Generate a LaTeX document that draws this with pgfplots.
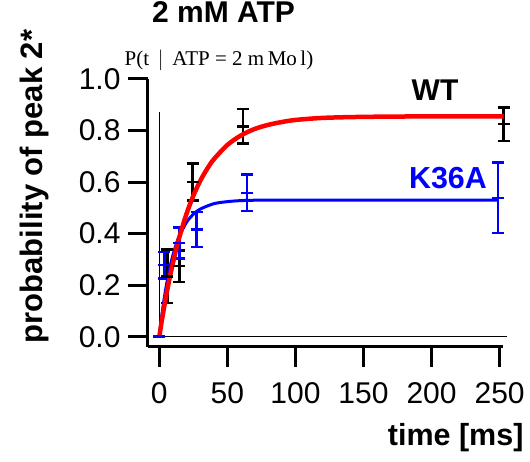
\documentclass[border=0pt]{standalone}
\usepackage{pgfplots}
\pgfplotsset{compat=1.18}
\usepackage{fontspec}
\setmainfont{Liberation Sans}
\newfontfamily\serifp{Liberation Serif}

\begin{document}
\begin{tikzpicture}[x=1pt,y=1pt]
\useasboundingbox (0,0) rectangle (530,462);
\begin{axis}[
  at={(148pt,115pt)}, anchor=south west,
  scale only axis, width=355pt, height=268pt,
  xmin=-8.3, xmax=252.5, ymin=-0.04, ymax=1.0,
  clip=false,
  axis lines=left,
  axis line style={-, line width=3pt},
  tick align=outside,
  major tick length=20pt,
  tick style={line width=3pt, black},
  xtick={0,50,100,150,200,250},
  ytick={0,0.2,0.4,0.6,0.8,1.0},
  yticklabel style={xshift=-4pt, /pgf/number format/.cd, fixed, fixed zerofill, precision=1},
  /pgf/number format/assume math mode=true,
  tick label style={font=\fontsize{30}{30}\selectfont},
  xticklabel style={yshift=-12pt},
  xlabel={\textbf{time [ms]}},
  xlabel style={at={(axis description cs:1.0676,-0.3657)}, anchor=base east, font=\fontsize{30.5}{31}\selectfont},
  ylabel={\textbf{probability of peak 2*}},
  ylabel style={at={(axis description cs:-0.297,0.599)}, anchor=base, rotate=0, font=\fontsize{31}{31}\selectfont},
  title={\textbf{2 mM ATP}},
  title style={at={(axis description cs:0.2127,1.189)}, anchor=base, font=\fontsize{30}{30}\selectfont},
]
% thin zero lines
\addplot[black, line width=1pt] coordinates {(-4.8,0) (255.6,0)};
\addplot[black, line width=1pt] coordinates {(0,0) (0,0.87)};

% WT data
\addplot[black, line width=2.5pt, only marks, mark=-, mark size=6pt,
  error bars/.cd, y dir=both, y explicit,
  error bar style={line width=2.5pt},
  error mark options={rotate=90, mark size=6pt, line width=2.5pt}]
  coordinates {
  (5.9,0.2345) +- (0,0.104)
  (14.7,0.274) +- (0,0.061)
  (24.5,0.601) +- (0,0.072)
  (61.6,0.8165) +- (0,0.0665)
  (253,0.825) +- (0,0.065)
};

% K36A data
\addplot[blue, line width=2.5pt, only marks, mark=-, mark size=6pt,
  error bars/.cd, y dir=both, y explicit,
  error bar style={line width=2.5pt},
  error mark options={rotate=90, mark size=6pt, line width=2.5pt}]
  coordinates {
  (0,0) +- (0,0)
  (3.7,0.2775) +- (0,0.0515)
  (14.7,0.363) +- (0,0.06)
  (27.4,0.416) +- (0,0.068)
  (64.6,0.558) +- (0,0.071)
  (248.7,0.539) +- (0,0.136)
};

% K36A fit
\addplot[blue, line width=3pt, smooth] coordinates {
  (0,0) (1,0.046) (2,0.088) (3,0.127) (5,0.193) (7.5,0.262) (10,0.316)
  (12.5,0.36) (15,0.394) (20,0.444) (25,0.475) (30,0.495) (40,0.516)
  (50,0.524) (60,0.528) (80,0.53) (150,0.53) (248.7,0.53)
};

% WT fit
\addplot[red, line width=4.5pt, smooth] coordinates {
  (0,0) (1,0.034) (2,0.067) (5,0.158) (7.5,0.225) (10,0.286) (12.5,0.342)
  (15,0.391) (20,0.477) (25,0.547) (30,0.604) (35,0.65) (40,0.688)
  (50,0.744) (60,0.781) (70,0.806) (80,0.822) (90,0.833) (100,0.841)
  (120,0.849) (150,0.853) (200,0.855) (253,0.855)
};

\node[anchor=base, font=\serifp\fontsize{21}{21}\selectfont] at (axis description cs:0.2,1.052) {P(t \,$|$\, ATP = 2 m\,Mo\,l)};
\node[anchor=base, font=\bfseries\fontsize{30}{30}\selectfont] at (axis description cs:0.8085,0.9216) {WT};
\node[anchor=base, text=blue, font=\bfseries\fontsize{30.4}{30}\selectfont] at (axis description cs:0.845,0.592) {K36A};
\end{axis}
\end{tikzpicture}
\end{document}
